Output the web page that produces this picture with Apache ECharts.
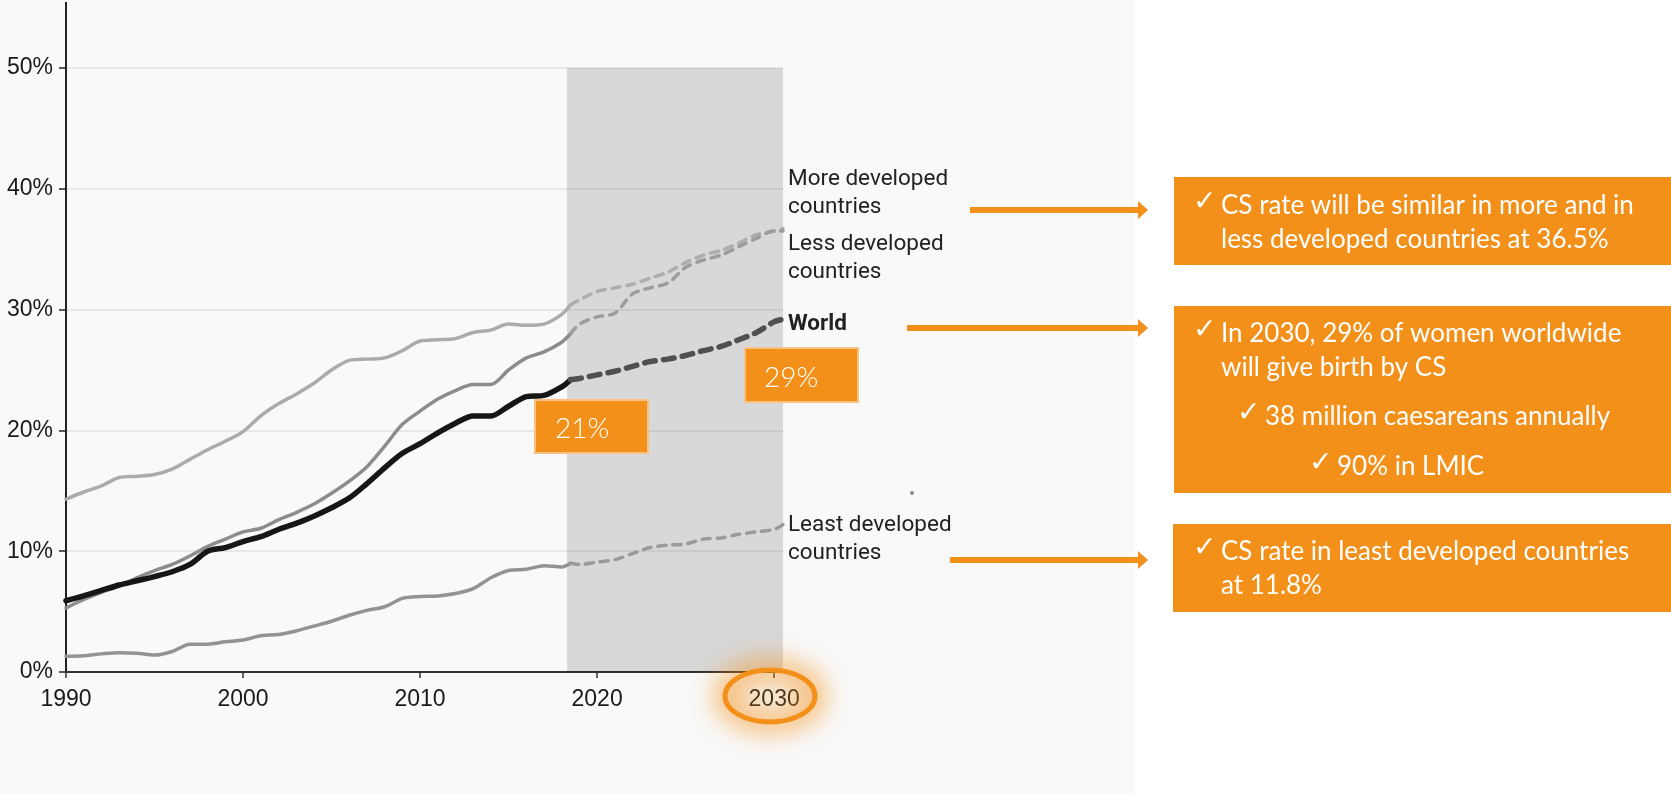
<!DOCTYPE html>
<html>
<head>
<meta charset="utf-8">
<script src="https://cdn.jsdelivr.net/npm/echarts@6/dist/echarts.min.js"></script>
<style>
  html, body { margin: 0; padding: 0; background: #ffffff; }
  #chart { width: 1671px; height: 793px; }
</style>
</head>
<body>
<div id="chart"></div>
<script>
// Caesarean section rates (%), observed 1990-2018 and projected to 2030
const histYears = [1990, 1991, 1992, 1993, 1994, 1995, 1996, 1997, 1998, 1999,
  2000, 2001, 2002, 2003, 2004, 2005, 2006, 2007, 2008, 2009,
  2010, 2011, 2012, 2013, 2014, 2015, 2016, 2017, 2018, 2018.5];
const worldHist = [5.9, 6.3, 6.75, 7.2, 7.55, 7.9, 8.3, 8.9, 10.0, 10.3,
  10.8, 11.2, 11.8, 12.3, 12.9, 13.6, 14.4, 15.6, 16.9, 18.1,
  18.9, 19.8, 20.6, 21.2, 21.2, 22.0, 22.8, 22.9, 23.6, 24.2];
const lessHist = [5.3, 6.0, 6.6, 7.1, 7.8, 8.4, 8.9, 9.6, 10.4, 11.0,
  11.6, 11.9, 12.6, 13.2, 13.9, 14.8, 15.8, 17.0, 18.7, 20.5,
  21.6, 22.6, 23.3, 23.8, 23.8, 25.0, 26.0, 26.5, 27.3, 28.0];
const moreHist = [14.3, 14.9, 15.4, 16.1, 16.2, 16.35, 16.8, 17.6, 18.4, 19.1,
  19.9, 21.2, 22.2, 23.0, 23.9, 25.0, 25.8, 25.9, 26.0, 26.6,
  27.4, 27.5, 27.6, 28.1, 28.3, 28.8, 28.7, 28.8, 29.6, 30.4];
const leastHist = [1.3, 1.35, 1.5, 1.6, 1.55, 1.4, 1.7, 2.3, 2.3, 2.5,
  2.65, 3.0, 3.1, 3.4, 3.8, 4.2, 4.7, 5.1, 5.4, 6.1,
  6.25, 6.3, 6.5, 6.9, 7.8, 8.4, 8.5, 8.8, 8.7, 9.0];

const projYears = [2018.5, 2019, 2020, 2021, 2022, 2023, 2024, 2025, 2026, 2027, 2028, 2029, 2030, 2030.5];
const worldProj = [24.2, 24.3, 24.6, 24.9, 25.3, 25.7, 25.9, 26.2, 26.6, 26.95, 27.5, 28.1, 29.0, 29.2];
const moreProj  = [30.4, 30.8, 31.5, 31.8, 32.1, 32.6, 33.1, 33.9, 34.5, 34.9, 35.5, 36.2, 36.5, 36.7];
const lessProj  = [28.0, 28.8, 29.4, 29.7, 31.3, 31.8, 32.2, 33.5, 34.1, 34.5, 35.2, 35.9, 36.5, 36.5];
const leastProj = [9.0, 8.9, 9.1, 9.3, 9.8, 10.3, 10.5, 10.6, 11.0, 11.1, 11.4, 11.6, 11.8, 12.2];

// projection period band
const projBand = [2018.3, 2030.5];
const projBandTop = 50.3;

const xTicks = [1990, 2000, 2010, 2020, 2030];
const yTicks = [0, 10, 20, 30, 40, 50];

// annotation texts
const seriesNames = ['More developed\ncountries', 'Less developed\ncountries', 'World', 'Least developed\ncountries'];
const worldNow = '21%';
const world2030 = '29%';
const box1Lines = ['CS rate will be similar in more and in', 'less developed countries at 36.5%'];
const box2Lines = ['In 2030, 29% of women worldwide', 'will give birth by CS'];
const box2Sub1 = '38 million caesareans annually';
const box2Sub2 = '90% in LMIC';
const box3Lines = ['CS rate in least developed countries', 'at 11.8%'];
const CHECK = '\u2713';

const ORANGE = '#f39019';
const pairs = (xs, ys) => xs.map((x, i) => [x, ys[i]]);

function lineSeries(name, xs, ys, color, width, dashed, z) {
  return {
    name: name,
    type: 'line',
    data: pairs(xs, ys),
    symbol: 'none',
    smooth: 0.3,
    z: z,
    silent: true,
    lineStyle: {
      color: color,
      width: width,
      type: dashed ? dashed : 'solid',
      cap: 'round',
      join: 'round'
    }
  };
}

const chart = echarts.init(document.getElementById('chart'));

const boxFont = '26px Lato, "Open Sans", sans-serif';
const checkFont = '28px "DejaVu Sans", sans-serif';

function boxText(x, y, lines) {
  return {
    type: 'text', left: x, top: y, z: 30,
    style: { text: lines.join('\n'), font: boxFont, fill: '#ffffff', lineHeight: 34, verticalAlign: 'top' }
  };
}
function checkText(x, y) {
  return {
    type: 'text', left: x, top: y - 3, z: 30,
    style: { text: CHECK, font: checkFont, fill: '#ffffff', lineHeight: 34, verticalAlign: 'top' }
  };
}
function arrow(x1, x2, y) {
  return [
    { type: 'line', z: 20, shape: { x1: x1, y1: y, x2: x2 - 8, y2: y }, style: { stroke: ORANGE, lineWidth: 6 } },
    { type: 'polygon', z: 20, shape: { points: [[x2 - 10, y - 9], [x2, y], [x2 - 10, y + 9]] }, style: { fill: ORANGE } }
  ];
}
function seriesLabel(x, y, text, bold) {
  return {
    type: 'text', left: x, top: y, z: 20,
    style: {
      text: text, font: (bold ? 'bold ' : '') + '22.5px Roboto, "Liberation Sans", sans-serif',
      fill: '#222222', lineHeight: 28, verticalAlign: 'top'
    }
  };
}

// the halo ring sits far off to the side so that only its blurred shadow lands on the chart
const HALO_SHIFT = 3000;

const graphics = [
  // white panel behind the notes
  { type: 'rect', z: -10, shape: { x: 1135, y: 0, width: 536, height: 793 }, style: { fill: '#ffffff' } },
  // upward extension of the y axis line
  { type: 'line', z: 10, shape: { x1: 66, y1: 2, x2: 66, y2: 68 }, style: { stroke: '#222222', lineWidth: 2 } },

  seriesLabel(788, 165, seriesNames[0], false),
  seriesLabel(788, 230, seriesNames[1], false),
  seriesLabel(788, 310, seriesNames[2], true),
  seriesLabel(788, 511, seriesNames[3], false),

  // value callouts
  { type: 'rect', z: 25, shape: { x: 535, y: 400, width: 113, height: 53 }, style: { fill: ORANGE, stroke: '#f8c184', lineWidth: 2 } },
  { type: 'text', left: 555, top: 415, z: 26, style: { text: worldNow, font: '300 28px Lato, sans-serif', fill: '#ffffff', lineHeight: 28, verticalAlign: 'top' } },
  { type: 'rect', z: 25, shape: { x: 745, y: 348, width: 113, height: 54 }, style: { fill: ORANGE, stroke: '#f8c184', lineWidth: 2 } },
  { type: 'text', left: 764, top: 364, z: 26, style: { text: world2030, font: '300 28px Lato, sans-serif', fill: '#ffffff', lineHeight: 28, verticalAlign: 'top' } },

  // highlight around the 2030 tick label: soft halo, then the ring
  { type: 'ellipse', z: 39, shape: { cx: 770 + HALO_SHIFT, cy: 696, rx: 46, ry: 27 },
    style: { fill: 'none', stroke: ORANGE, lineWidth: 14, shadowBlur: 26, shadowOffsetX: -HALO_SHIFT, shadowColor: 'rgba(243,144,25,0.85)' } },
  { type: 'ellipse', z: 40, shape: { cx: 770, cy: 696, rx: 45, ry: 26 },
    style: { fill: 'rgba(243,144,25,0.08)', stroke: ORANGE, lineWidth: 5 } },

  { type: 'circle', z: 5, shape: { cx: 912, cy: 493, r: 2 }, style: { fill: '#8a8a8a' } },

  ...arrow(970, 1148, 210),
  ...arrow(907, 1148, 328),
  ...arrow(950, 1148, 560),

  // notes
  { type: 'rect', z: 25, shape: { x: 1174, y: 177, width: 497, height: 88 }, style: { fill: ORANGE } },
  checkText(1193, 189), boxText(1221, 189, box1Lines),
  { type: 'rect', z: 25, shape: { x: 1174, y: 306, width: 497, height: 187 }, style: { fill: ORANGE } },
  checkText(1193, 317), boxText(1221, 317, box2Lines),
  checkText(1237, 400), boxText(1265, 400, [box2Sub1]),
  checkText(1309, 450), boxText(1337, 450, [box2Sub2]),
  { type: 'rect', z: 25, shape: { x: 1173, y: 524, width: 498, height: 88 }, style: { fill: ORANGE } },
  checkText(1193, 535), boxText(1221, 535, box3Lines)
];

chart.setOption({
  backgroundColor: '#f9f9f9',
  animation: false,
  grid: { left: 66, top: 68, width: 717, height: 604, containLabel: false },
  xAxis: {
    type: 'value',
    min: 1990,
    max: projBand[1],
    interval: 10,
    axisLine: { show: true, lineStyle: { color: '#333333', width: 2 } },
    axisTick: { show: true, customValues: xTicks, length: 6, lineStyle: { color: '#333333', width: 1.5 } },
    axisLabel: {
      customValues: xTicks, margin: 16,
      color: '#1a1a1a', fontSize: 23, fontFamily: '"Liberation Sans", Arial, sans-serif',
      formatter: v => String(v)
    },
    splitLine: { show: false }
  },
  yAxis: {
    type: 'value',
    min: 0,
    max: 50,
    interval: 10,
    axisLine: { show: true, lineStyle: { color: '#222222', width: 2 } },
    axisTick: { show: true, length: 7, lineStyle: { color: '#222222', width: 1.5 } },
    axisLabel: {
      margin: 13, padding: [0, 0, 11, 0],
      color: '#1a1a1a', fontSize: 23, fontFamily: '"Liberation Sans", Arial, sans-serif',
      formatter: v => (yTicks.indexOf(v) >= 0 ? v + '%' : '')
    },
    splitLine: { show: true, lineStyle: { color: '#e2e2e2', width: 1.5 } }
  },
  series: [
    {
      name: 'projection',
      type: 'line',
      data: [],
      z: 1,
      silent: true,
      markArea: {
        silent: true,
        itemStyle: { color: 'rgba(0,0,0,0.13)', borderRadius: 3 },
        data: [[{ xAxis: projBand[0], yAxis: 0 }, { xAxis: projBand[1], yAxis: projBandTop }]]
      }
    },
    lineSeries('Least developed', histYears, leastHist, '#939393', 3.5, null, 3),
    lineSeries('Least developed (projected)', projYears, leastProj, '#9a9a9a', 3.5, [8, 7], 3),
    lineSeries('More developed', histYears, moreHist, '#ababab', 3.5, null, 3),
    lineSeries('More developed (projected)', projYears, moreProj, '#adadad', 3.5, [8, 7], 3),
    lineSeries('Less developed', histYears, lessHist, '#8c8c8c', 3.5, null, 4),
    lineSeries('Less developed (projected)', projYears, lessProj, '#9c9c9c', 3.5, [8, 7], 4),
    lineSeries('World', histYears, worldHist, '#161616', 5.5, null, 5),
    lineSeries('World (projected)', projYears, worldProj, '#505050', 5.5, [11, 8], 5)
  ],
  graphic: { elements: graphics }
});
</script>
</body>
</html>
